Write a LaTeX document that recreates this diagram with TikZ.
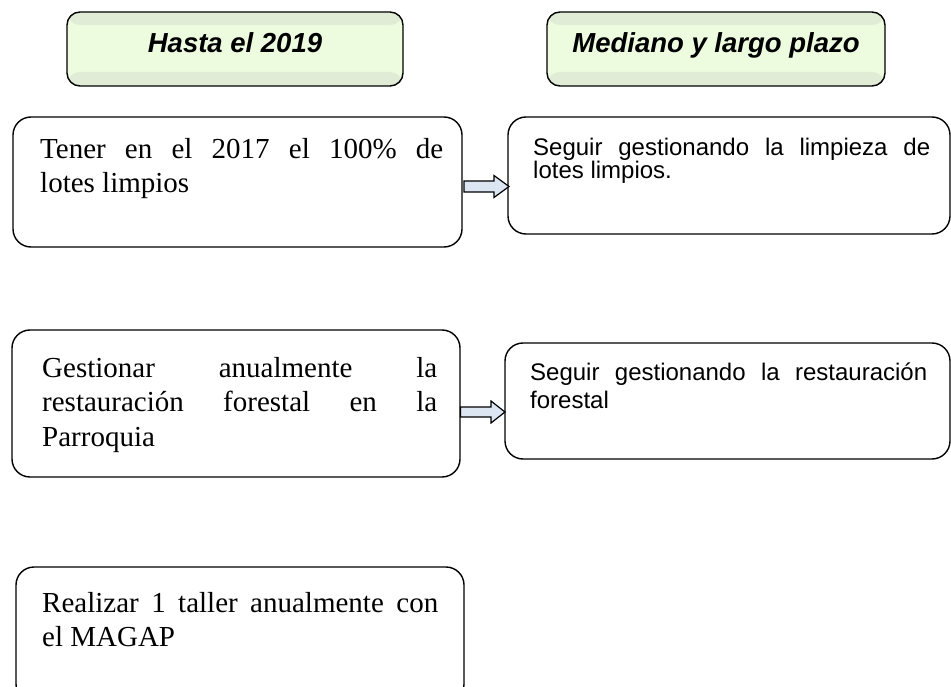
\documentclass[tikz,border=0pt]{standalone}
\usepackage{fontspec}
\setmainfont{Liberation Serif}
\newfontfamily\arialfont{Liberation Sans}
\usetikzlibrary{calc}
\definecolor{hdrband}{RGB}{224,236,214}
\definecolor{hdrmid}{RGB}{237,251,223}
\definecolor{arrfill}{RGB}{220,230,242}
\tikzset{
  hdrbox/.style={draw=black, line width=1.4pt, rounded corners=13pt, fill=hdrmid,
    anchor=north west, inner sep=0pt, outer sep=0pt,
    path picture={
      \fill[hdrband] (path picture bounding box.north west) rectangle ([yshift=-13pt]path picture bounding box.north east);
      \fill[hdrband] ([yshift=14pt]path picture bounding box.south west) rectangle (path picture bounding box.south east);
    }},
  hdrtext/.style={anchor=base, inner sep=0pt, font=\arialfont\bfseries\itshape\fontsize{27.5}{30}\selectfont},
  itembox/.style={draw=black, line width=1.4pt, rounded corners=18pt, anchor=north west,
    inner sep=0pt, outer sep=0pt},
  serifitem/.style={anchor=base west, inner sep=0pt, align=left},
  sansitem/.style={anchor=base west, inner sep=0pt, align=left},
  blockarr/.style={draw=black, line width=1.2pt, fill=arrfill, line join=miter},
}
\begin{document}
\begin{tikzpicture}[x=1pt, y=-1pt]
\useasboundingbox (0,0) rectangle (951,687);
\clip (0,0) rectangle (951,687);

% headers
\node[hdrbox, minimum width=336pt, minimum height=74pt] (h1) at (67,12) {};
\node[hdrtext] (h1t) at (235,53) {Hasta el 2019};
\node[hdrbox, minimum width=338pt, minimum height=74pt] (h2) at (547,12) {};
\node[hdrtext] (h2t) at (716,53) {Mediano y largo plazo};

% left boxes (text nodes anchored at the baseline of their last line)
\node[itembox, minimum width=449pt, minimum height=130pt] (b1) at (13,117) {};
\node[serifitem, font=\fontsize{29}{34}\selectfont] (b1t) at (40,193)
  {\makebox[403pt][s]{Tener en el 2017 el 100\% de}\\lotes limpios};

\node[itembox, minimum width=448pt, minimum height=147pt] (b2) at (12,330) {};
\node[serifitem, font=\fontsize{29}{34.5}\selectfont] (b2t) at (42,446)
  {\makebox[395pt][s]{Gestionar anualmente la}\\\makebox[395pt][s]{restauración forestal en la}\\Parroquia};

\node[itembox, minimum width=448pt, minimum height=135pt] (b3) at (16,567) {};
\node[serifitem, font=\fontsize{29}{34}\selectfont] (b3t) at (42,646)
  {\makebox[396pt][s]{Realizar 1 taller anualmente con}\\el MAGAP};

% right boxes
\node[itembox, minimum width=442pt, minimum height=117pt] (r1) at (508,117) {};
\node[sansitem, font=\arialfont\fontsize{24}{23}\selectfont] (r1t) at (533,179)
  {\makebox[397pt][s]{Seguir gestionando la limpieza de}\\lotes limpios.};

\node[itembox, minimum width=445pt, minimum height=116pt] (r2) at (505,343) {};
\node[sansitem, font=\arialfont\fontsize{24}{28}\selectfont] (r2t) at (530,408)
  {\makebox[397pt][s]{Seguir gestionando la restauración}\\forestal};

% block arrows
\coordinate (a1t) at ($(b1.east |- 0,186.5)+(2,0)$);
\coordinate (a1h) at ($(r1.west |- 0,186.5)+(1,0)$);
\draw[blockarr] ($(a1t)+(0,-5.5)$) -- ($(a1h)+(-15,-5.5)$) -- ($(a1h)+(-15,-11)$) -- (a1h)
  -- ($(a1h)+(-15,11)$) -- ($(a1h)+(-15,5.5)$) -- ($(a1t)+(0,5.5)$) -- cycle;

\coordinate (a2t) at ($(b2.east |- 0,412)+(0.5,0)$);
\coordinate (a2h) at (r2.west |- 0,412);
\draw[blockarr] ($(a2t)+(0,-5)$) -- ($(a2h)+(-14,-5)$) -- ($(a2h)+(-14,-11)$) -- (a2h)
  -- ($(a2h)+(-14,11)$) -- ($(a2h)+(-14,5)$) -- ($(a2t)+(0,5)$) -- cycle;
\end{tikzpicture}
\end{document}
